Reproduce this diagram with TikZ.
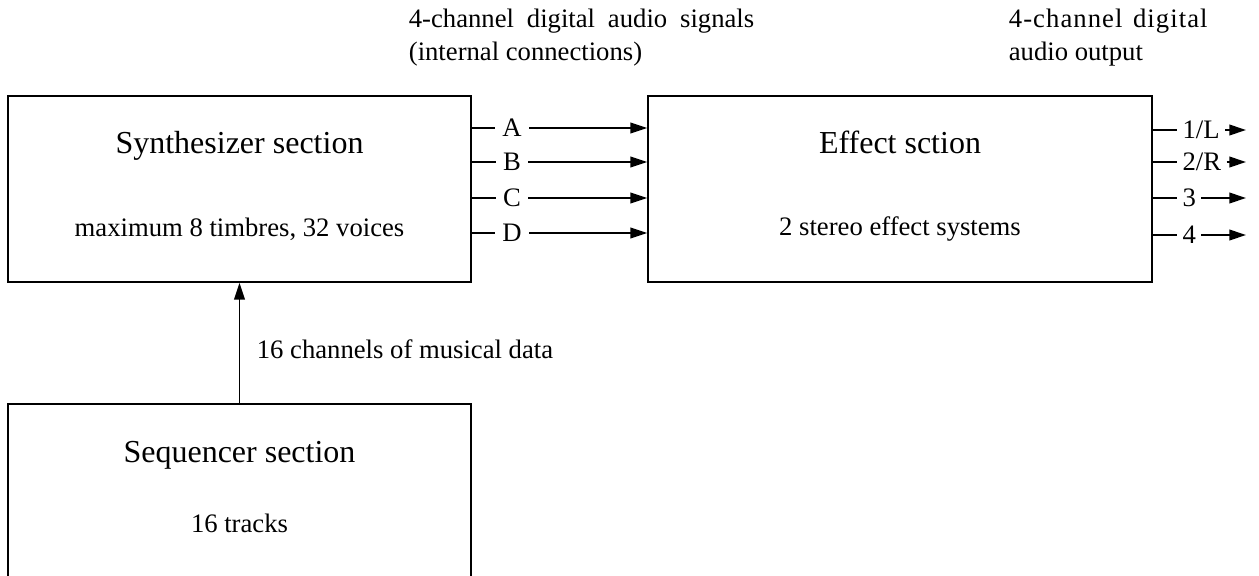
\documentclass[tikz,border=0pt]{standalone}
\usepackage{fontspec}
\setmainfont{Liberation Serif}
\usetikzlibrary{arrows.meta}
\begin{document}
\begin{tikzpicture}[x=0.75pt,y=-0.75pt,line width=1.3pt,
  box/.style={draw,inner sep=0pt},
  title/.style={font=\fontsize{24}{28}\selectfont,inner sep=0pt,anchor=base},
  sub/.style={font=\fontsize{20}{24}\selectfont,inner sep=0pt,anchor=base},
  lab/.style={font=\fontsize{20}{24}\selectfont,inner sep=5pt,text height=13pt,text depth=0pt},
  note/.style={font=\fontsize{20}{24}\selectfont,inner sep=0pt,anchor=base west},
  arr/.style={-{Triangle[length=12.5pt,width=8pt]}}]
\clip (0,0) rectangle (1259,575);
% boxes
\node[box,minimum width=347.25pt,minimum height=139.5pt] (syn) at (239.5,189) {};
\node[box,minimum width=378pt,minimum height=139.5pt] (eff) at (900,189) {};
\node[box,minimum width=347.25pt,minimum height=162pt] (seq) at (239.5,512) {};
% box texts
\node[title] (syntitle) at (239.5,153) {Synthesizer section};
\node[sub] (synsub) at (239.5,236) {maximum 8 timbres, 32 voices};
\node[title] (efftitle) at (900,153) {Effect sction};
\node[sub] (effsub) at (900,235) {2 stereo effect systems};
\node[title] (seqtitle) at (239.5,462) {Sequencer section};
\node[sub] (seqsub) at (239.5,532) {16 tracks};
% top notes
\node[note] (n1) at (408,27) {\makebox[259pt][s]{4-channel digital audio signals}};
\node[note] (n2) at (408,60) {(internal connections)};
\node[note] (n3) at (1008,27) {\makebox[149pt][s]{\addfontfeature{LetterSpace=4}4-channel digital}};
\node[note] (n4) at (1008,60) {audio output};
% internal connections
\foreach \n/\y in {A/128,B/162,C/198,D/233}{
  \node[lab] (\n) at (512,\y) {\n};
  \draw (syn.east |- \n) -- (\n);
  \draw[arr] (\n) -- (eff.west |- \n);
}
% outputs
\foreach \n/\t/\y in {o1/1\slash L/130,o2/2\slash R/162,o3/3/198,o4/4/235}{
  \node[lab,anchor=west,inner sep=3.5pt] (\n) at (1177,\y) {\t};
  \coordinate (\n e) at (1246,\y);
  \draw (eff.east |- \n) -- (\n.west);
  \draw[arr] (\n.east) -- (\n e);
}
% sequencer to synthesizer
\draw[arr] (seq.north) -- (syn.south);
\node[sub,anchor=base west] (data) at (256,358) {16 channels of musical data};
\end{tikzpicture}
\end{document}
